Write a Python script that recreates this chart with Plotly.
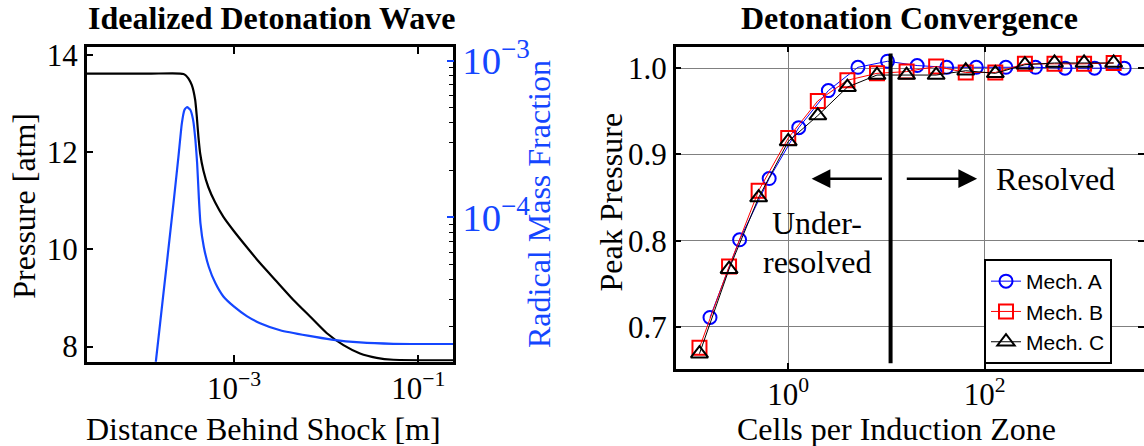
import plotly.graph_objects as go

# ---------------- Left panel data: idealized detonation wave ----------------
pressure_distance_m = [2.51e-5, 1.26e-4, 2.60e-4, 2.82e-4, 3.00e-4, 3.19e-4, 3.48e-4, 3.78e-4,
                       3.94e-4, 4.10e-4, 4.28e-4, 4.65e-4, 5.26e-4, 6.22e-4, 7.66e-4, 9.84e-4,
                       1.37e-3, 1.91e-3, 2.90e-3, 4.41e-3, 6.68e-3, 1.01e-2, 1.54e-2,
                       2.33e-2, 3.53e-2, 5.35e-2, 0.24]
pressure_atm = [13.62, 13.62, 13.62, 13.61, 13.58, 13.52, 13.38, 13.08,
                12.73, 12.32, 11.98, 11.62, 11.28, 10.97, 10.67, 10.39,
                10.05, 9.72, 9.34, 8.96, 8.62, 8.28, 8.03,
                7.86, 7.77, 7.73, 7.72]

radical_distance_m = [1.349e-4, 1.574e-4, 1.862e-4, 2.198e-4, 2.489e-4, 2.710e-4, 2.891e-4,
                      3.090e-4, 3.357e-4, 3.589e-4, 3.802e-4, 3.972e-4, 4.140e-4, 4.315e-4,
                      4.688e-4, 5.309e-4, 6.281e-4, 7.656e-4, 1.0e-3, 1.374e-3, 1.914e-3,
                      3.162e-3, 6.31e-3, 1.148e-2, 2.328e-2, 5.346e-2, 0.24]
radical_mass_fraction = [9.33e-6, 2.109e-5, 5.093e-5, 1.230e-4, 2.438e-4, 3.981e-4, 4.842e-4,
                         5.047e-4, 4.842e-4, 4.188e-4, 3.119e-4, 2.213e-4, 1.355e-4, 9.16e-5,
                         6.50e-5, 4.842e-5, 3.793e-5, 3.126e-5, 2.692e-5, 2.344e-5, 2.113e-5,
                         1.905e-5, 1.758e-5, 1.660e-5, 1.592e-5, 1.560e-5, 1.556e-5]

# ---------------- Right panel data: detonation convergence ----------------
mech_a_cells = [0.16, 0.32, 0.64, 1.28, 2.56, 5.12, 10.24, 20.5, 41, 82, 164, 328, 655, 1310, 2620]
mech_a_peak = [0.711, 0.801, 0.872, 0.931, 0.974, 1.001, 1.008, 1.003, 1.001, 1.001,
               1.001, 1.001, 1.000, 1.000, 1.000]
mech_bc_cells = [0.125, 0.25, 0.5, 1, 2, 4, 8, 16, 32, 64, 128, 256, 512, 1024, 2048]
mech_b_peak = [0.676, 0.770, 0.858, 0.919, 0.962, 0.986, 0.994, 0.996, 1.002, 0.995,
               0.995, 1.005, 1.005, 1.005, 1.006]
mech_c_peak = [0.669, 0.767, 0.850, 0.915, 0.945, 0.978, 0.992, 0.992, 0.992, 0.997,
               0.994, 1.004, 1.006, 1.006, 1.006]
series_names = ["Mech. A", "Mech. B", "Mech. C"]

resolution_threshold = 11.0
threshold_span = [0.658, 1.017]

SERIF = "Liberation Serif, Times New Roman, serif"
SANS = "Liberation Sans, Arial, sans-serif"
BLUE_L = "#1446ff"
W, H = 1144, 446


def px_x(p):
    return p / W


def px_y(p):
    return 1 - p / H


fig = go.Figure()

# Left panel traces
fig.add_trace(go.Scatter(x=pressure_distance_m, y=pressure_atm, mode="lines",
                         line=dict(color="black", width=2.2, shape="spline", smoothing=0.5),
                         xaxis="x", yaxis="y", showlegend=False))
fig.add_trace(go.Scatter(x=radical_distance_m, y=radical_mass_fraction, mode="lines",
                         line=dict(color=BLUE_L, width=2.2, shape="spline", smoothing=0.5),
                         xaxis="x", yaxis="y2", showlegend=False))

# Right panel traces
colors = ["#0000ff", "#ff0000", "black"]
symbols = ["circle-open", "square-open", "triangle-up-open"]
sizes = [13, 14, 15]
for name, xs, ys, c, s, sz in zip(series_names,
                                  [mech_a_cells, mech_bc_cells, mech_bc_cells],
                                  [mech_a_peak, mech_b_peak, mech_c_peak],
                                  colors, symbols, sizes):
    fig.add_trace(go.Scatter(x=xs, y=ys, name=name, mode="lines+markers",
                             line=dict(color=c, width=1),
                             marker=dict(symbol=s, size=sz, color=c, line=dict(width=2, color=c)),
                             xaxis="x2", yaxis="y3", legendgroup=name))

fig.add_trace(go.Scatter(x=[resolution_threshold, resolution_threshold], y=threshold_span,
                         mode="lines", line=dict(color="black", width=4),
                         xaxis="x2", yaxis="y3", showlegend=False, hoverinfo="skip"))

tickfont = dict(family=SERIF, size=31, color="black")

fig.update_layout(
    width=W, height=H,
    margin=dict(l=0, r=0, t=0, b=0, autoexpand=False),
    paper_bgcolor="white", plot_bgcolor="white",
    xaxis=dict(domain=[px_x(86.7), px_x(453.3)], type="log", range=[-4.6, -0.62],
               anchor="y", automargin=False,
               showline=True, linecolor="black", linewidth=2.5, mirror="ticks",
               ticks="inside", ticklen=7, tickwidth=1.5, tickcolor="black",
               tickvals=[1e-3, 1e-1], ticktext=["10<sup>\u22123</sup>", "10<sup>\u22121</sup>"],
               ticklabelstandoff=-3,
               showgrid=False, zeroline=False, tickfont=tickfont),
    yaxis=dict(domain=[px_y(361.7), px_y(47.3)], range=[7.69, 14.16], anchor="x",
               automargin=False,
               showline=True, linecolor="black", linewidth=2.5, mirror=False,
               ticks="inside", ticklen=7, tickwidth=1.5, tickcolor="black",
               tickvals=[8, 10, 12, 14], showgrid=False, zeroline=False, tickfont=tickfont),
    yaxis2=dict(overlaying="y", side="right", anchor="x", type="log", automargin=False,
                range=[-4.921, -2.915], showline=True, linecolor="black", linewidth=2.5,
                ticks="inside", ticklen=7, tickwidth=1.5, tickcolor=BLUE_L,
                tickmode="linear", tick0=0, dtick=1, exponentformat="power",
                minor=dict(ticks="inside", ticklen=5, tickwidth=1.2, tickcolor="black",
                           dtick="D1", showgrid=False),
                showgrid=False, zeroline=False,
                tickfont=dict(family=SERIF, size=31, color=BLUE_L)),
    xaxis2=dict(domain=[px_x(675.7), 1.0], type="log", range=[-1.145, 3.62], anchor="y3",
                automargin=False,
                showline=True, linecolor="black", linewidth=2.5, mirror="ticks",
                ticks="inside", ticklen=6, tickwidth=1.5, tickcolor="black",
                tickvals=[1, 100], ticktext=["10<sup>0</sup>", "10<sup>2</sup>"],
                ticklabelstandoff=-3,
                showgrid=True, gridcolor="#808080", gridwidth=1, zeroline=False,
                tickfont=tickfont),
    yaxis3=dict(domain=[px_y(368.5), px_y(46.5)], range=[0.6518, 1.0251], anchor="x2",
                automargin=False,
                showline=True, linecolor="black", linewidth=2.5, mirror="ticks",
                ticks="inside", ticklen=6, tickwidth=1.5, tickcolor="black",
                tickvals=[0.7, 0.8, 0.9, 1.0], ticktext=["0.7", "0.8", "0.9", "1.0"],
                showgrid=True, gridcolor="#808080", gridwidth=1, zeroline=False,
                tickfont=tickfont),
    legend=dict(x=px_x(984), y=px_y(259), xanchor="left", yanchor="top",
                bgcolor="white", bordercolor="black", borderwidth=2,
                font=dict(family=SANS, size=21, color="black"),
                tracegroupgap=0),
    showlegend=True,
)


def label(text, x, y, size=31, color="black", angle=0, **kw):
    return dict(text=text, x=px_x(x), y=px_y(y), xref="paper", yref="paper",
                showarrow=False, xanchor="center", yanchor="middle", textangle=angle,
                font=dict(family=SERIF, size=size, color=color), **kw)


annotations = [
    label("<b>Idealized Detonation Wave</b>", 271, 18, size=32),
    label("<b>Detonation Convergence</b>", 909, 18, size=32),
    label("Distance Behind Shock [m]", 263, 429, size=32),
    label("Cells per Induction Zone", 896, 429, size=32),
    label("Pressure [atm]", 24, 205.7, size=32, angle=-90),
    label("Radical Mass Fraction", 539, 204, size=32, color=BLUE_L, angle=-90),
    label("Peak Pressure", 610, 202.5, size=32, angle=-90),
    # arrows
    dict(text="", x=0.238, y=0.8718, ax=0.969, ay=0.8718, xref="x2", yref="y3",
         axref="x2", ayref="y3", showarrow=True, arrowhead=2, arrowsize=1.5,
         arrowwidth=2.5, arrowcolor="black"),
    dict(text="", x=1.922, y=0.8718, ax=1.191, ay=0.8718, xref="x2", yref="y3",
         axref="x2", ayref="y3", showarrow=True, arrowhead=2, arrowsize=1.5,
         arrowwidth=2.5, arrowcolor="black"),
    dict(text="Resolved", x=2.089, y=0.8718, xref="x2", yref="y3", showarrow=False,
         xanchor="left", yanchor="middle", font=dict(family=SERIF, size=32, color="black")),
    dict(text="Under-", x=0.293, y=0.820, xref="x2", yref="y3", showarrow=False,
         xanchor="center", yanchor="middle", font=dict(family=SERIF, size=32, color="black")),
    dict(text="resolved", x=0.290, y=0.7754, xref="x2", yref="y3", showarrow=False,
         xanchor="center", yanchor="middle", font=dict(family=SERIF, size=32, color="black")),
]
fig.update_layout(annotations=annotations)

fig.write_html("out.html",
               config={"displayModeBar": False},
               post_script="document.body.style.margin='0';document.body.style.overflow='hidden';")
